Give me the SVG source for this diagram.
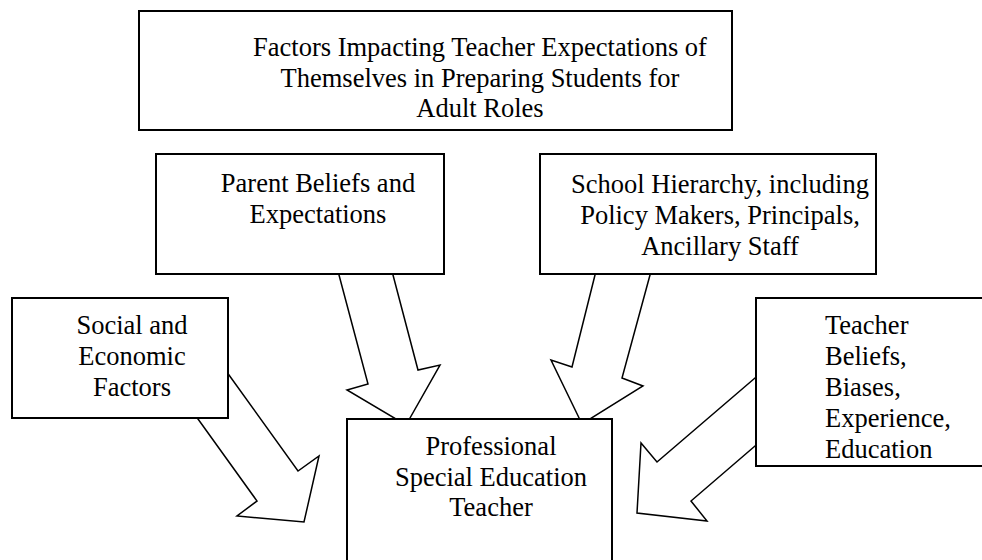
<svg xmlns="http://www.w3.org/2000/svg" width="982" height="560" viewBox="0 0 982 560">
  <style>
    .box { fill: #ffffff; stroke: #000000; stroke-width: 2; }
    .arrow { fill: #ffffff; stroke: #000000; stroke-width: 1.5; stroke-linejoin: miter; }
    .label { font-family: "Liberation Serif", "Times New Roman", serif; font-size: 26.5px; fill: #000000; }
    .mid { text-anchor: middle; }
  </style>
  <rect width="982" height="560" fill="#ffffff"/>

  <!-- Block arrows: drawn first so the boxes cover their tails and tips -->
  <g id="connectors">
    <polygon id="arrow-social" class="arrow" points="201,337 229,375 298,471 319,456 304,522 237,516 257,501 198,419 168,378"/>
    <polygon id="arrow-parent" class="arrow" points="330,240 339,275 368,384 347,390 406,425 440,365 418,370 393,275 384,240"/>
    <polygon id="arrow-school" class="arrow" points="604,240 595,275 572,367 551,360 582,424 643,386 622,378 650,275 660,240"/>
    <polygon id="arrow-teacher" class="arrow" points="785,352 755,378 657,462 641,443 637,513 707,521 691,501 755,446 785,420"/>
  </g>

  <g id="title">
    <rect class="box" x="139" y="11" width="593" height="119"/>
    <text class="label mid" x="480" y="56">Factors Impacting Teacher Expectations of</text>
    <text class="label mid" x="480" y="87">Themselves in Preparing Students for</text>
    <text class="label mid" x="480" y="117">Adult Roles</text>
  </g>

  <g id="parent">
    <rect class="box" x="156" y="154" width="288" height="120"/>
    <text class="label mid" x="318" y="192">Parent Beliefs and</text>
    <text class="label mid" x="318" y="223">Expectations</text>
  </g>

  <g id="school">
    <rect class="box" x="540" y="154" width="336" height="120"/>
    <text class="label mid" x="720" y="193">School Hierarchy, including</text>
    <text class="label mid" x="720" y="224">Policy Makers, Principals,</text>
    <text class="label mid" x="720" y="255">Ancillary Staff</text>
  </g>

  <g id="social">
    <rect class="box" x="12" y="298" width="216" height="120"/>
    <text class="label mid" x="132" y="334">Social and</text>
    <text class="label mid" x="132" y="365">Economic</text>
    <text class="label mid" x="132" y="396">Factors</text>
  </g>

  <g id="teacher-beliefs">
    <rect class="box" x="756" y="298" width="240" height="168"/>
    <text class="label" x="825" y="334">Teacher</text>
    <text class="label" x="825" y="365">Beliefs,</text>
    <text class="label" x="825" y="396">Biases,</text>
    <text class="label" x="825" y="427">Experience,</text>
    <text class="label" x="825" y="458">Education</text>
  </g>

  <g id="professional">
    <rect class="box" x="347" y="419" width="265" height="160"/>
    <text class="label mid" x="491" y="455">Professional</text>
    <text class="label mid" x="491" y="486">Special Education</text>
    <text class="label mid" x="491" y="516">Teacher</text>
  </g>
</svg>
